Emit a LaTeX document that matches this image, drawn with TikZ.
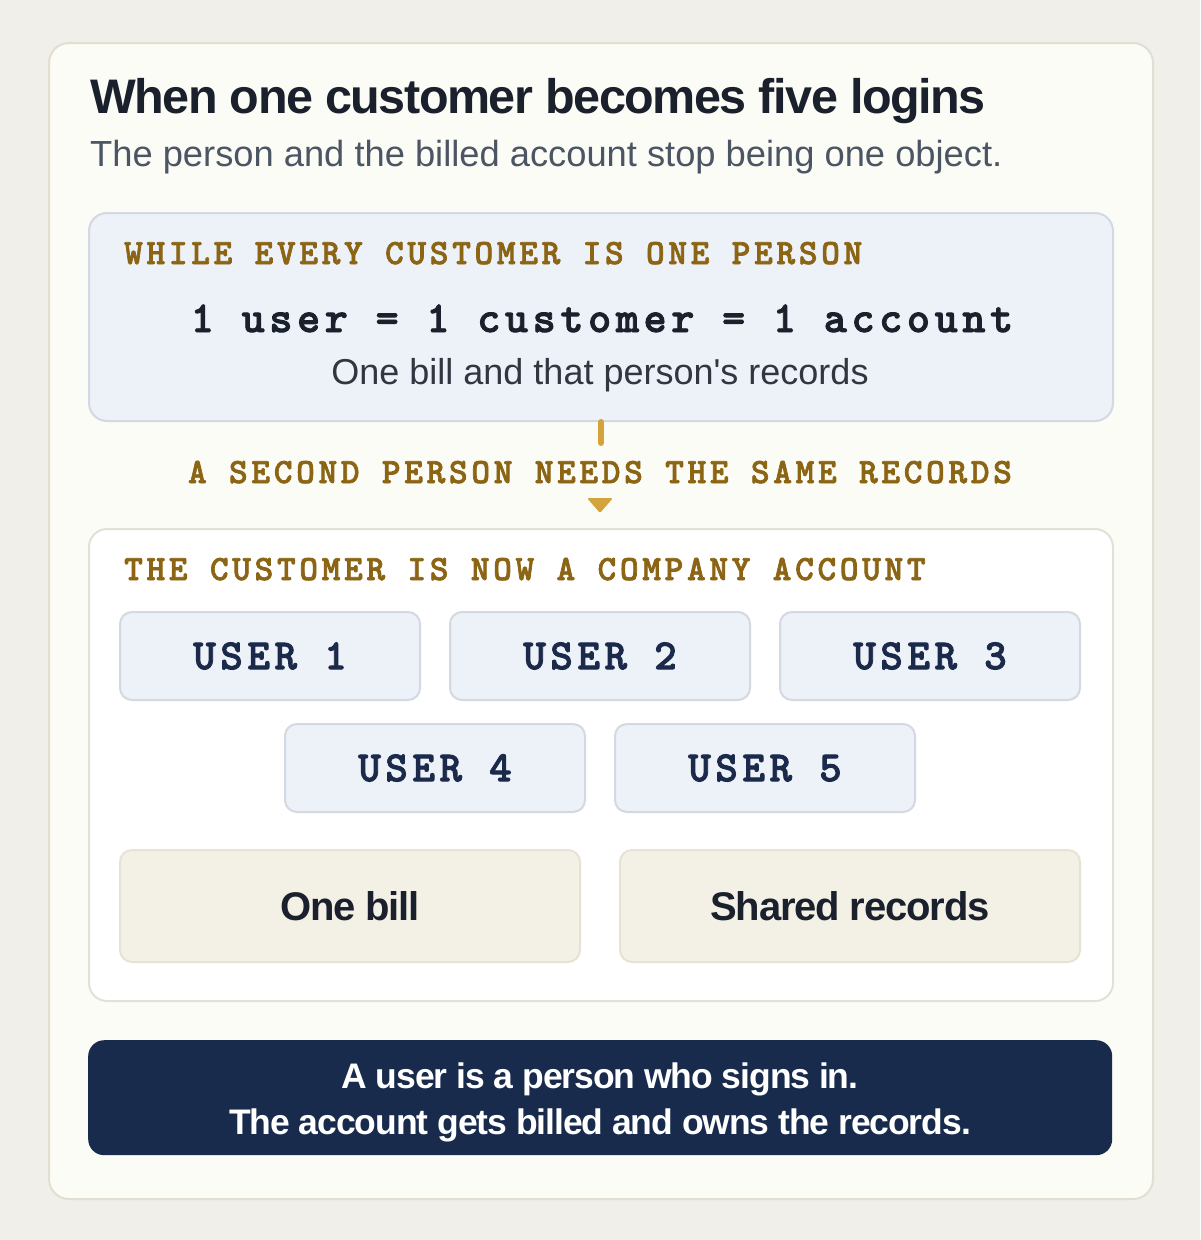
\documentclass[tikz,border=0pt]{standalone}
\usepackage{fontspec}
\setmainfont{Liberation Sans}
\newfontfamily\tightsans{Liberation Sans}[LetterSpace=-3]
\newfontfamily\codefont{lmmonolt10-bold.otf}[LetterSpace=10.5, FakeBold=2]

\definecolor{pagebg}{RGB}{240,239,234}
\definecolor{cardbg}{RGB}{252,252,246}
\definecolor{cardline}{RGB}{226,223,210}
\definecolor{ink}{RGB}{26,32,44}
\definecolor{subink}{RGB}{75,85,99}
\definecolor{bluebg}{RGB}{237,241,248}
\definecolor{blueline}{RGB}{211,216,225}
\definecolor{goldtext}{RGB}{139,100,20}
\definecolor{goldline}{RGB}{212,164,58}
\definecolor{plainline}{RGB}{226,224,216}
\definecolor{sandbg}{RGB}{243,240,229}
\definecolor{sandline}{RGB}{231,227,212}
\definecolor{navy}{RGB}{24,43,77}
\definecolor{usertext}{RGB}{27,42,74}

\begin{document}
\begin{tikzpicture}[x=1pt, y=-1pt,
	panel/.style={draw=#1, line width=2pt, rounded corners=18pt, anchor=north west, inner sep=0pt},
	userbox/.style={draw=blueline, fill=bluebg, line width=2pt, rounded corners=12pt,
		minimum width=300pt, minimum height=88pt, inner sep=0pt,
		text=usertext, font=\codefont\fontsize{43}{43}\selectfont},
	sandbox/.style={draw=sandline, fill=sandbg, line width=2pt, rounded corners=12pt,
		minimum width=460pt, minimum height=112pt, inner sep=0pt,
		text=ink, font=\tightsans\bfseries\fontsize{40}{40}\selectfont},
	tag/.style={text=goldtext, inner sep=0pt, font=\codefont\fontsize{35.5}{35.5}\selectfont}]
	\useasboundingbox[fill=pagebg] (0,0) rectangle (1200,1240);

	\node[panel=cardline, fill=cardbg, rounded corners=20pt,
		minimum width=1104pt, minimum height=1156pt] (card) at (48,42) {};
	\node[anchor=base west, inner sep=0pt, text=ink, font=\tightsans\bfseries\fontsize{48.5}{48.5}\selectfont]
		(title) at (90,113) {When one customer becomes five logins};
	\node[anchor=base west, inner sep=0pt, text=subink, font=\fontsize{36.3}{36.3}\selectfont]
		(subtitle) at (90,166) {The person and the billed account stop being one object.};

	\node[panel=blueline, fill=bluebg, minimum width=1024pt, minimum height=208pt] (before) at (88,212) {};
	\node[tag, anchor=base west] (beforetag) at (124,264) {WHILE EVERY CUSTOMER IS ONE PERSON};
	\node[anchor=base, inner sep=0pt, text=ink, font=\codefont\fontsize{44}{44}\selectfont]
		(rule) at (602,332) {1 user = 1 customer = 1 account};
	\node[anchor=base, inner sep=0pt, text=ink!90, font=\fontsize{36}{36}\selectfont]
		(ruledesc) at (600,384) {One bill and that person\textquotesingle s records};

	\node[tag, anchor=base] (change) at (600,483) {A SECOND PERSON NEEDS THE SAME RECORDS};
	\draw[goldline, line width=6pt, line cap=round] (before.south) -- ++(0,21);
	\fill[goldline, rounded corners=1.5pt] (587,498) -- (613,498) -- (600,513) -- cycle;

	\node[panel=plainline, fill=white, minimum width=1024pt, minimum height=472pt] (after) at (88,528) {};
	\node[tag, anchor=base west] (aftertag) at (124,580) {THE CUSTOMER IS NOW A COMPANY ACCOUNT};

	\node[userbox] (user1) at (270,656) {USER 1};
	\node[userbox] (user2) at (600,656) {USER 2};
	\node[userbox] (user3) at (930,656) {USER 3};
	\node[userbox] (user4) at (435,768) {USER 4};
	\node[userbox] (user5) at (765,768) {USER 5};

	\node[sandbox] (bill) at (350,906) {One bill};
	\node[sandbox] (records) at (850,906) {Shared records};

	\node[fill=navy, rounded corners=16pt, minimum width=1024pt, minimum height=115pt,
		anchor=north west, inner sep=0pt] (notebox) at (88,1040) {};
	\node[align=center, inner sep=0pt, text=white, font=\tightsans\bfseries\fontsize{35.5}{46}\selectfont]
		(note) at (600,1102) {A user is a person who signs in.\\The account gets billed and owns the records.};
\end{tikzpicture}
\end{document}
